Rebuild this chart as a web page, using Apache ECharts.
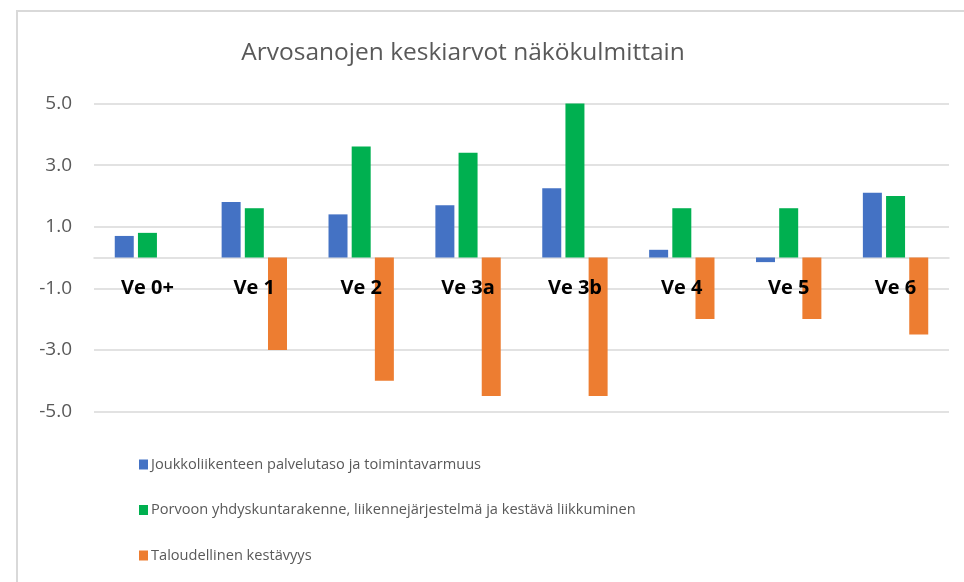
<!DOCTYPE html>
<html>
<head>
<meta charset="utf-8">
<script src="https://cdn.jsdelivr.net/npm/echarts@6/dist/echarts.min.js"></script>
<style>
  html, body { margin: 0; padding: 0; background: #fff; }
  #chart { width: 964px; height: 582px; }
</style>
</head>
<body>
<div id="chart"></div>
<script>
// Alternatives (vaihtoehdot) and the average grades per viewpoint
const categories = ['Ve 0+', 'Ve 1', 'Ve 2', 'Ve 3a', 'Ve 3b', 'Ve 4', 'Ve 5', 'Ve 6'];
const seriesNames = [
  'Joukkoliikenteen palvelutaso ja toimintavarmuus',
  'Porvoon yhdyskuntarakenne, liikennejärjestelmä ja kestävä liikkuminen',
  'Taloudellinen kestävyys'
];
const joukkoliikenne = [0.7, 1.8, 1.4, 1.7, 2.25, 0.25, -0.15, 2.1];
const yhdyskuntarakenne = [0.8, 1.6, 3.6, 3.4, 5.0, 1.6, 1.6, 2.0];
const talous = [0, -3.0, -4.0, -4.5, -4.5, -2.0, -2.0, -2.5];
const yTicks = [-5, -3, -1, 1, 3, 5];

const colors = ['#4472C4', '#00B050', '#ED7D31'];
const seriesData = [joukkoliikenne, yhdyskuntarakenne, talous];

// plot area edges; the category names sit just under the zero line
const gridTop = 103.5;
const gridBottom = 170.5;
const plotHeight = 582 - gridTop - gridBottom;
const zeroFromBottom = plotHeight / 2;

const chart = echarts.init(document.getElementById('chart'), null, { renderer: 'canvas' });

const option = {
  animation: false,
  backgroundColor: '#ffffff',
  title: {
    text: 'Arvosanojen keskiarvot näkökulmittain',
    left: 458,
    top: 36,
    textAlign: 'center',
    textStyle: {
      fontFamily: 'Open Sans',
      fontWeight: 'normal',
      fontSize: 24.5,
      color: '#595959'
    }
  },
  legend: {
    orient: 'vertical',
    left: 134,
    top: 452,
    itemGap: 30.5,
    itemWidth: 9,
    itemHeight: 10,
    icon: 'rect',
    textStyle: {
      fontFamily: 'Open Sans',
      fontSize: 14.6,
      color: '#595959',
      padding: [0, 0, 0, -2]
    },
    data: seriesNames
  },
  grid: {
    left: 94,
    right: 15,
    top: gridTop,
    bottom: gridBottom,
    containLabel: false
  },
  xAxis: [
    {
      type: 'category',
      data: categories,
      axisLine: { onZero: true, lineStyle: { color: '#d9d9d9', width: 1.5 } },
      axisTick: { show: false },
      axisLabel: { show: false }
    },
    {
      type: 'category',
      data: categories,
      position: 'bottom',
      offset: -zeroFromBottom,
      z: 10,
      axisLine: { show: false },
      axisTick: { show: false },
      axisLabel: {
        margin: 21,
        fontFamily: 'Open Sans',
        fontWeight: 'bold',
        fontSize: 20,
        color: '#000000'
      }
    }
  ],
  yAxis: {
    type: 'value',
    min: -5,
    max: 5,
    interval: 2,
    axisLine: { show: false },
    axisTick: { show: false },
    splitLine: { lineStyle: { color: '#d9d9d9', width: 1.5 } },
    axisLabel: {
      margin: 22,
      fontFamily: 'Open Sans',
      fontSize: 19,
      color: '#595959',
      formatter: function (v) {
        return yTicks.indexOf(v) >= 0 ? v.toFixed(1) : '';
      }
    }
  },
  series: seriesNames.map(function (name, i) {
    return {
      name: name,
      type: 'bar',
      xAxisIndex: 0,
      data: seriesData[i],
      barWidth: 19,
      barGap: '22%',
      itemStyle: { color: colors[i] }
    };
  }),
  graphic: [
    {
      type: 'line',
      shape: { x1: 17, y1: 11, x2: 17, y2: 582 },
      style: { stroke: '#d9d9d9', lineWidth: 2 }
    },
    {
      type: 'line',
      shape: { x1: 16, y1: 11, x2: 964, y2: 11 },
      style: { stroke: '#d9d9d9', lineWidth: 2 }
    }
  ]
};

chart.setOption(option);
</script>
</body>
</html>
